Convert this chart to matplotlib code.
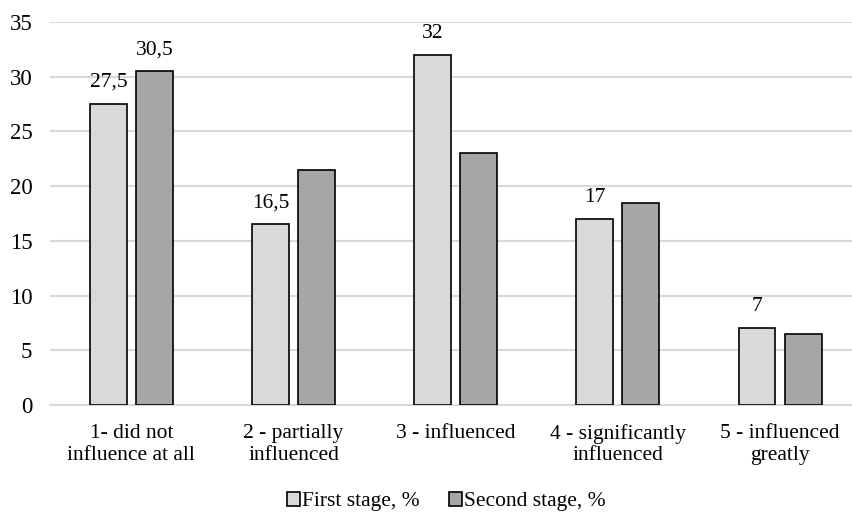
import numpy as np
import matplotlib.pyplot as plt

plt.rcParams['font.family'] = ['Liberation Serif', 'DejaVu Serif']

categories = ["1- did not\ninfluence at all", "2 - partially\ninfluenced", "3 - influenced",
              "4 - significantly\ninfluenced", "5 - influenced\ngreatly"]
first_stage = [27.5, 16.5, 32, 17, 7]
second_stage = [30.5, 21.5, 23, 18.5, 6.5]
first_labels = ["27,5", "16,5", "32", "17", "7"]
second_labels = ["30,5", "", "", "", ""]

fs = 15.5
fig = plt.figure(figsize=(8.53, 5.12), dpi=100)
ax = fig.add_axes([0.059, 0.209, 0.941, 0.748])

x = np.arange(len(categories))
w = 0.228
off = 0.142
b1 = ax.bar(x - off, first_stage, w, color="#D9D9D9", edgecolor="black", linewidth=1.2,
            label="First stage, %", zorder=3)
b2 = ax.bar(x + off, second_stage, w, color="#A6A6A6", edgecolor="black", linewidth=1.2,
            label="Second stage, %", zorder=3)

for rect, lab in zip(b1, first_labels):
    ax.text(rect.get_x() + rect.get_width() / 2, rect.get_height() + 1.1, lab,
            ha="center", va="bottom", fontsize=fs)
for rect, lab in zip(b2, second_labels):
    if lab:
        ax.text(rect.get_x() + rect.get_width() / 2, rect.get_height() + 1.1, lab,
                ha="center", va="bottom", fontsize=fs)

ax.set_ylim(0, 35)
ax.set_yticks(range(0, 36, 5))
ax.set_xlim(-0.5, 4.45)
ax.set_xticks(x)
ax.set_xticklabels(categories, fontsize=fs, linespacing=1.15)
ax.tick_params(axis="y", labelsize=16.5, length=0, pad=13)
ax.tick_params(axis="x", length=0, pad=14)
ax.grid(axis="y", color="#D9D9D9", linewidth=1.5, zorder=0)
for s in ["top", "right", "left"]:
    ax.spines[s].set_visible(False)
ax.spines["bottom"].set_color("#D9D9D9")
ax.spines["bottom"].set_linewidth(1.5)

fig.legend(handles=[b1, b2], loc="center", bbox_to_anchor=(0.523, 0.02), ncol=2,
           frameon=False, fontsize=fs, handlelength=0.6, handleheight=0.6,
           handletextpad=0.1, columnspacing=1.35, borderpad=0)

fig.savefig("out.png", dpi=100)
